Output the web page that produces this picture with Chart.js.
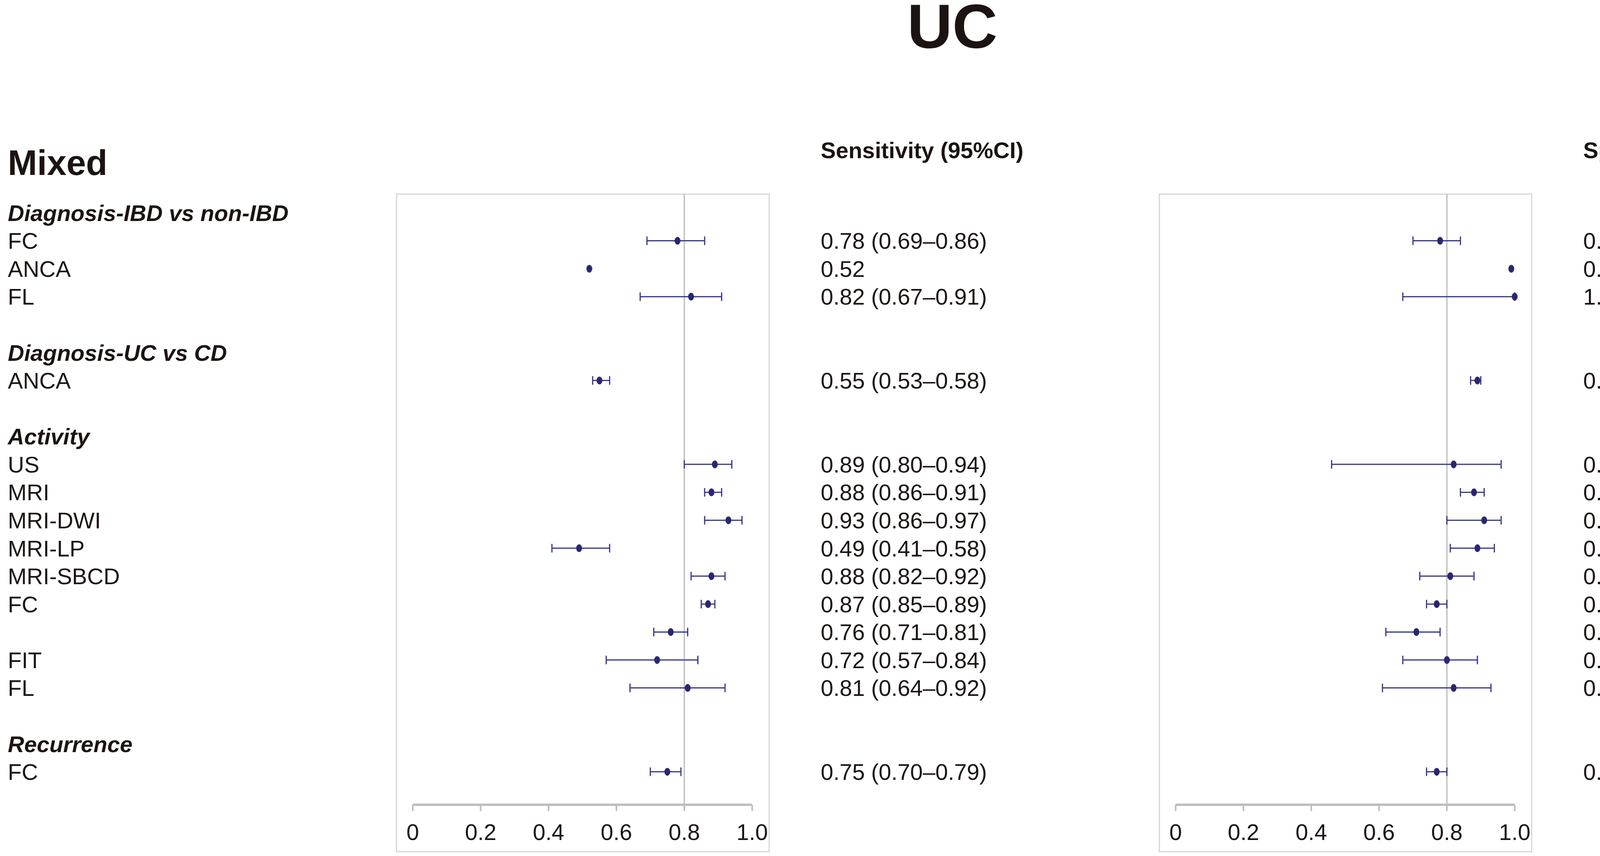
<!DOCTYPE html>
<html>
<head>
<meta charset="utf-8">
<script src="https://cdn.jsdelivr.net/npm/chart.js@4.4.1/dist/chart.umd.min.js"></script>
<style>
body{margin:0;background:#fff;width:4550px;height:2192px;overflow:hidden;position:relative}
canvas{position:absolute;top:0}
#sens{left:0}
#spec{left:2950px}
</style>
</head>
<body>
<canvas id="sens" width="2950" height="2192"></canvas>
<canvas id="spec" width="1600" height="2192"></canvas>
<script>
// data
const title = 'UC';
const panelTitle = 'Mixed';
const groups = ['Diagnosis-IBD vs non-IBD', 'Diagnosis-UC vs CD', 'Activity', 'Recurrence'];
const groupOf = [0, 0, 0, 1, 2, 2, 2, 2, 2, 2, 2, 2, 2, 3];
const names = ['FC', 'ANCA', 'FL', 'ANCA', 'US', 'MRI', 'MRI-DWI', 'MRI-LP', 'MRI-SBCD', 'FC', '', 'FIT', 'FL', 'FC'];

const sensEst = [0.78, 0.52, 0.82, 0.55, 0.89, 0.88, 0.93, 0.49, 0.88, 0.87, 0.76, 0.72, 0.81, 0.75];
const sensLo  = [0.69, null, 0.67, 0.53, 0.80, 0.86, 0.86, 0.41, 0.82, 0.85, 0.71, 0.57, 0.64, 0.70];
const sensHi  = [0.86, null, 0.91, 0.58, 0.94, 0.91, 0.97, 0.58, 0.92, 0.89, 0.81, 0.84, 0.92, 0.79];

const specEst = [0.78, 0.99, 1.00, 0.89, 0.82, 0.88, 0.91, 0.89, 0.81, 0.77, 0.71, 0.80, 0.82, 0.77];
const specLo  = [0.70, null, 0.67, 0.87, 0.46, 0.84, 0.80, 0.81, 0.72, 0.74, 0.62, 0.67, 0.61, 0.74];
const specHi  = [0.84, null, 1.00, 0.90, 0.96, 0.91, 0.96, 0.94, 0.88, 0.80, 0.78, 0.89, 0.93, 0.80];

const xTicks = [0, 0.2, 0.4, 0.6, 0.8, 1.0];
const xTickLabels = ['0', '0.2', '0.4', '0.6', '0.8', '1.0'];
const refValue = 0.8;

// row layout: header row per group, a blank row between groups
let rows = [], headerRows = [];
let r = 0;
groups.forEach((g, gi) => {
  if (gi > 0) r++;
  headerRows.push(r); r++;
  groupOf.forEach((k, i) => { if (k === gi) { rows[i] = r; r++; } });
});

const FONT = '"Liberation Sans", Arial, Helvetica, sans-serif';
const TXT = '#1c1412';
const BAR = '#34348f';
const DOT = '#28276f';
const axisRow = 21.18, tickRow = 22.15, colHeadRow = -2.25, mixedRow = -1.8;

// slightly tall oval marker like the original
const dot = document.createElement('canvas');
dot.width = 16; dot.height = 21;
(function () {
  const c = dot.getContext('2d');
  c.fillStyle = DOT;
  c.beginPath();
  c.ellipse(8, 10.5, 7.5, 10, 0, 0, Math.PI * 2);
  c.fill();
})();

function fmt(e, lo, hi) {
  if (lo == null) return e.toFixed(2);
  return e.toFixed(2) + ' (' + lo.toFixed(2) + '\u2013' + hi.toFixed(2) + ')';
}

// draw text with its cap-height centred on y
function capText(ctx, s, x, y, size, style, align) {
  ctx.font = style + ' ' + size + 'px ' + FONT;
  ctx.textAlign = align || 'left';
  ctx.textBaseline = 'alphabetic';
  ctx.fillText(s, x, y + size * 0.358);
}

function forest(colTitle, est, lo, hi, withLabels) {
  return {
    id: 'forest',
    beforeDatasetsDraw(chart) {
      const {ctx, chartArea: a, scales: {x, y}} = chart;
      ctx.save();
      ctx.strokeStyle = '#d6d6d6';
      ctx.lineWidth = 3;
      ctx.strokeRect(a.left, a.top, a.right - a.left, a.bottom - a.top);

      const axisY = y.getPixelForValue(axisRow);
      const rx = x.getPixelForValue(refValue);
      ctx.strokeStyle = '#b8b8b8';
      ctx.lineWidth = 3;
      ctx.beginPath(); ctx.moveTo(rx, a.top); ctx.lineTo(rx, axisY); ctx.stroke();

      ctx.strokeStyle = '#bdbdbd';
      ctx.lineWidth = 6;
      ctx.beginPath();
      ctx.moveTo(x.getPixelForValue(xTicks[0]), axisY);
      ctx.lineTo(x.getPixelForValue(xTicks[xTicks.length - 1]), axisY);
      ctx.stroke();
      ctx.lineWidth = 4;
      ctx.fillStyle = TXT;
      xTicks.forEach((t, i) => {
        const px = x.getPixelForValue(t);
        ctx.beginPath(); ctx.moveTo(px, axisY); ctx.lineTo(px, axisY + 16); ctx.stroke();
        capText(ctx, xTickLabels[i], px, y.getPixelForValue(tickRow), 58, 'normal', 'center');
      });

      ctx.strokeStyle = BAR;
      ctx.lineWidth = 3;
      est.forEach((e, i) => {
        if (lo[i] == null) return;
        const py = y.getPixelForValue(rows[i]);
        const x0 = x.getPixelForValue(lo[i]), x1 = x.getPixelForValue(hi[i]);
        ctx.beginPath();
        ctx.moveTo(x0, py); ctx.lineTo(x1, py);
        ctx.moveTo(x0, py - 11); ctx.lineTo(x0, py + 11);
        ctx.moveTo(x1, py - 11); ctx.lineTo(x1, py + 11);
        ctx.stroke();
      });
      ctx.restore();
    },
    afterDraw(chart) {
      const {ctx, chartArea: a, scales: {y}} = chart;
      ctx.save();
      ctx.fillStyle = TXT;
      const vx = a.right + 132;
      capText(ctx, colTitle, vx, y.getPixelForValue(colHeadRow), 58, 'bold');
      est.forEach((e, i) => {
        capText(ctx, fmt(e, lo[i], hi[i]), vx, y.getPixelForValue(rows[i]), 58, 'normal');
      });
      if (withLabels) {
        capText(ctx, title, 2438, 65, 160, 'bold', 'center');
        capText(ctx, panelTitle, 20, y.getPixelForValue(mixedRow), 90, 'bold');
        groups.forEach((g, gi) => capText(ctx, g, 20, y.getPixelForValue(headerRows[gi]), 58, 'italic bold'));
        names.forEach((n, i) => capText(ctx, n, 20, y.getPixelForValue(rows[i]), 58, 'normal'));
      }
      ctx.restore();
    }
  };
}

function makeChart(id, colTitle, est, lo, hi, withLabels, pad) {
  return new Chart(document.getElementById(id), {
    type: 'scatter',
    data: {
      datasets: [{
        data: est.map((v, i) => ({x: v, y: rows[i]})),
        pointStyle: dot,
        pointRadius: 10
      }]
    },
    options: {
      responsive: false,
      devicePixelRatio: 1,
      animation: false,
      events: [],
      layout: {padding: pad},
      plugins: {legend: {display: false}, tooltip: {enabled: false}},
      scales: {
        x: {type: 'linear', min: -0.048, max: 1.05, display: false},
        y: {type: 'linear', min: -0.67, max: 22.86, reverse: true, display: false}
      }
    },
    plugins: [forest(colTitle, est, lo, hi, withLabels)]
  });
}

makeChart('sens', 'Sensitivity (95%CI)', sensEst, sensLo, sensHi, true,
  {left: 1015, right: 981, top: 497, bottom: 10});
makeChart('spec', 'Specifity (95%CI)', specEst, specLo, specHi, false,
  {left: 18, right: 629, top: 497, bottom: 10});
</script>
</body>
</html>
